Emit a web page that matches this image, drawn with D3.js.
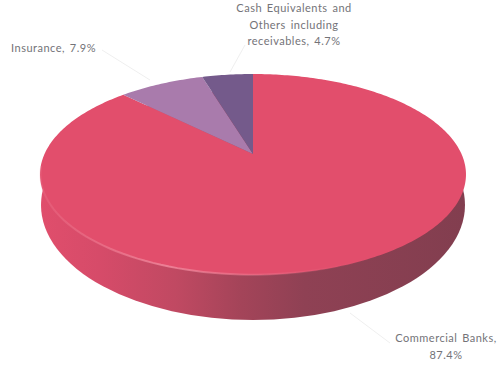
<!DOCTYPE html>
<html>
<head>
<meta charset="utf-8">
<script src="https://cdn.jsdelivr.net/npm/d3@7"></script>
<style>
html,body{margin:0;padding:0;background:#fff}
svg{display:block}
text{font-family:Lato,"Open Sans",sans-serif;font-size:11px;fill:#737378;letter-spacing:.5px;word-spacing:1.5px}
</style>
</head>
<body>
<svg id="chart" width="497" height="367"></svg>
<script>
// Portfolio shares, clockwise from twelve o'clock
const categories = ["Commercial Banks", "Insurance", "Cash Equivalents and Others including receivables"];
const shares = [87.4, 7.9, 4.7];
const sliceColors = ["#e24e6c", "#a97bac", "#745a8b"];

const svg = d3.select("#chart");
const defs = svg.append("defs");

// Perspective of the tilted disc: unit circle to screen
const tilt = { cx: 253, cy: 154, sx: 208.5, sy: 96.3, k: 0.204 };
const project = (a, r) => {
  const u = r * Math.sin(a), v = -r * Math.cos(a), d = 1 - tilt.k * v;
  return [tilt.cx + tilt.sx * u / d, tilt.cy + tilt.sy * v / d];
};
// Lower edge of the disc wall
const base = { cx: 253, cy: 205, rx: 212, ry: 115 };

const line = d3.line();
const arcs = d3.pie().sort(null).value(d => d)(shares);

// Wall shading runs from lit left to shaded right
const wallGrad = defs.append("linearGradient").attr("id", "wall")
  .attr("gradientUnits", "userSpaceOnUse")
  .attr("x1", 40).attr("x2", 466).attr("y1", 0).attr("y2", 0);
[[0, "#e04e6c"], [0.14, "#d64b69"], [0.32, "#c04962"], [0.47, "#a44459"], [0.62, "#8f4154"], [1, "#823e4f"]]
  .forEach(([o, c]) => wallGrad.append("stop").attr("offset", o).attr("stop-color", c));

const rimGrad = defs.append("linearGradient").attr("id", "rim")
  .attr("gradientUnits", "userSpaceOnUse")
  .attr("x1", 40).attr("x2", 466).attr("y1", 0).attr("y2", 0);
[[0, "#f08a9e", 0.2], [0.3, "#f59aac", 0.65], [0.55, "#f08a9e", 0.3], [0.8, "#e24e6c", 0]]
  .forEach(([o, c, a]) => rimGrad.append("stop").attr("offset", o).attr("stop-color", c).attr("stop-opacity", a));

// Leader lines
const leaders = [
  [[350, 313], [390, 343]],
  [[102, 50], [150, 80]],
  [[245, 45], [230, 72]]
];
svg.append("g").selectAll("path").data(leaders).join("path")
  .attr("d", d => line(d))
  .attr("fill", "none").attr("stroke", "#efefef").attr("stroke-width", 1);

// Disc wall
svg.append("ellipse")
  .attr("cx", base.cx).attr("cy", base.cy).attr("rx", base.rx).attr("ry", base.ry)
  .attr("fill", "url(#wall)");

// Top face wedges
const wedgePoints = d => {
  const n = Math.max(2, Math.ceil((d.endAngle - d.startAngle) * 60));
  const pts = [project(0, 0)];
  for (let i = 0; i <= n; i++) {
    pts.push(project(d.startAngle + (d.endAngle - d.startAngle) * i / n, 1));
  }
  return pts;
};
svg.append("g").selectAll("path").data(arcs).join("path")
  .attr("d", d => line(wedgePoints(d)) + "Z")
  .attr("fill", (d, i) => sliceColors[i]);

// Bevel highlight along the near rim
const rimPts = d3.range(95, 265, 2).map(a => project(a * Math.PI / 180, 0.998));
svg.append("path")
  .attr("d", line(rimPts))
  .attr("fill", "none").attr("stroke", "url(#rim)").attr("stroke-width", 2);

// Labels
const labels = [
  { lines: ["Commercial Banks,", "87.4%"], x: 446, y: [342, 359], anchor: "middle" },
  { lines: ["Insurance, 7.9%"], x: 11, y: [52], anchor: "start" },
  { lines: ["Cash Equivalents and", "Others including", "receivables, 4.7%"], x: 294, y: [12, 29, 45], anchor: "middle" }
];
const labelG = svg.append("g");
labels.forEach(l => {
  l.lines.forEach((t, i) => {
    labelG.append("text").attr("x", l.x).attr("y", l.y[i]).attr("text-anchor", l.anchor).text(t);
  });
});
</script>
</body>
</html>
